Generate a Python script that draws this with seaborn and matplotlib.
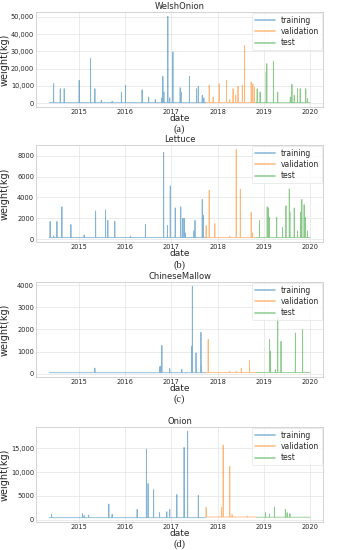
import pandas as pd
import numpy as np
import matplotlib
matplotlib.use('Agg')
import matplotlib.pyplot as plt
import matplotlib.dates as mdates
from matplotlib.ticker import FuncFormatter
import seaborn as sns

# periodos de cada particion
train_start, train_end = '2014-05-15', '2017-09-30'
val_start, val_end = '2017-10-01', '2018-10-31'
test_start, test_end = '2018-11-01', '2019-12-31'

# WelshOnion: (fecha, pico en kg) y nivel base
welsh_train = [('2014-06-19', 11200), ('2014-08-10', 8300), ('2014-09-10', 8300), ('2015-01-06', 13200),
               ('2015-04-06', 25800), ('2015-05-10', 8300), ('2015-06-29', 1500), ('2015-09-23', 1000),
               ('2015-12-05', 6400), ('2016-01-06', 10300), ('2016-05-16', 7700), ('2016-07-07', 3500),
               ('2016-08-28', 2000), ('2016-10-19', 3000), ('2016-10-27', 15500), ('2016-11-04', 6400),
               ('2016-12-05', 50400), ('2016-12-20', 3000), ('2017-01-14', 29700), ('2017-03-12', 8900),
               ('2017-03-19', 6400), ('2017-05-24', 15500), ('2017-07-20', 8300), ('2017-08-02', 9700),
               ('2017-09-02', 4500), ('2017-09-15', 3000)]
welsh_val = [('2017-10-27', 10300), ('2017-11-27', 3500), ('2018-01-14', 11200), ('2018-03-12', 13200),
             ('2018-04-07', 2000), ('2018-05-03', 8300), ('2018-05-24', 4500), ('2018-06-11', 9700),
             ('2018-07-15', 10300), ('2018-08-02', 33500), ('2018-09-23', 12200), ('2018-10-06', 11200),
             ('2018-10-19', 9000)]
welsh_test = [('2018-11-09', 8300), ('2018-12-02', 6400), ('2019-01-19', 18000), ('2019-01-24', 22900),
              ('2019-03-17', 24200), ('2019-04-20', 6400), ('2019-07-28', 3500), ('2019-08-10', 10800),
              ('2019-08-28', 4500), ('2019-09-23', 8300), ('2019-10-14', 8300), ('2019-11-27', 8300),
              ('2019-12-10', 2500)]
welsh_base = [200, 300, 200]

# Lettuce
lettuce_train = [('2014-05-22', 1700), ('2014-06-19', 300), ('2014-07-15', 1700), ('2014-08-23', 3100),
                 ('2014-11-02', 1400), ('2015-02-14', 400), ('2015-05-16', 2700), ('2015-08-02', 2800),
                 ('2015-08-20', 1800), ('2015-10-14', 1700), ('2016-02-14', 300), ('2016-06-11', 1400),
                 ('2016-11-02', 8300), ('2016-12-02', 1300), ('2016-12-24', 5100), ('2017-02-01', 3000),
                 ('2017-03-17', 3100), ('2017-04-01', 2000), ('2017-04-12', 2000), ('2017-04-20', 600),
                 ('2017-06-29', 800), ('2017-07-07', 1800), ('2017-09-02', 3800), ('2017-09-10', 2300)]
lettuce_val = [('2017-10-03', 1300), ('2017-10-27', 4700), ('2017-12-10', 1500), ('2018-04-07', 300),
               ('2018-05-28', 8600), ('2018-06-29', 4800), ('2018-09-23', 2600), ('2018-10-01', 600)]
lettuce_test = [('2018-11-27', 1800), ('2019-01-27', 3100), ('2019-02-04', 3000), ('2019-02-14', 2100),
                ('2019-04-12', 2100), ('2019-05-28', 1100), ('2019-06-24', 3200), ('2019-07-20', 4800),
                ('2019-07-25', 2600), ('2019-08-28', 3000), ('2019-09-23', 800), ('2019-10-19', 2600),
                ('2019-10-27', 3800), ('2019-11-14', 3300), ('2019-11-22', 2100), ('2019-12-10', 800)]
lettuce_base = [150, 150, 150]

# ChineseMallow
mallow_train = [('2015-05-10', 250), ('2016-10-01', 300), ('2016-10-06', 330), ('2016-10-19', 1280),
                ('2016-12-20', 230), ('2017-03-25', 200), ('2017-06-11', 1240), ('2017-06-16', 3950),
                ('2017-07-15', 940), ('2017-08-23', 1870), ('2017-08-28', 330)]
mallow_val = [('2017-10-19', 1550), ('2018-04-07', 100), ('2018-05-28', 110), ('2018-07-07', 230),
              ('2018-09-10', 590)]
mallow_test = [('2019-02-14', 1540), ('2019-02-20', 1010), ('2019-04-01', 180), ('2019-04-20', 2550),
               ('2019-05-16', 1460), ('2019-09-06', 1840), ('2019-11-02', 1990)]
mallow_base = [40, 50, 50]

# Onion
onion_train = [('2014-06-03', 1150), ('2015-02-01', 1300), ('2015-02-14', 900), ('2015-03-22', 1000),
               ('2015-08-28', 3300), ('2015-09-23', 1150), ('2016-04-07', 2200), ('2016-06-19', 14800),
               ('2016-07-02', 7600), ('2016-08-15', 6300), ('2016-10-01', 1500), ('2016-11-27', 1700),
               ('2016-12-20', 2200), ('2017-02-14', 5300), ('2017-04-12', 15150), ('2017-05-10', 18500),
               ('2017-08-02', 5100)]
onion_val = [('2017-10-03', 2600), ('2018-02-01', 2600), ('2018-02-14', 15650), ('2018-04-07', 11200),
             ('2018-04-25', 1100), ('2018-08-23', 800)]
onion_test = [('2019-01-14', 1500), ('2019-02-14', 1200), ('2019-03-25', 2700), ('2019-06-19', 2200),
              ('2019-07-03', 1500), ('2019-07-25', 1300)]
onion_base = [450, 600, 550]

productos = ['WelshOnion', 'Lettuce', 'ChineseMallow', 'Onion']
letras = ['(a)', '(b)', '(c)', '(d)']
series = [(welsh_train, welsh_val, welsh_test, welsh_base),
          (lettuce_train, lettuce_val, lettuce_test, lettuce_base),
          (mallow_train, mallow_val, mallow_test, mallow_base),
          (onion_train, onion_val, onion_test, onion_base)]
splits = ['training', 'validation', 'test']
periodos = [(train_start, train_end), (val_start, val_end), (test_start, test_end)]
colores = ['#1f77b4', '#ff7f0e', '#2ca02c']


def armar_serie(picos, base, inicio, fin):
    dia = pd.Timedelta(days=1)
    filas = [(pd.Timestamp(inicio), base), (pd.Timestamp(fin), base)]
    for f, v in picos:
        f = pd.Timestamp(f)
        filas += [(f - dia, base), (f, v), (f + dia, base)]
    df = pd.DataFrame(filas, columns=['date', 'weight']).drop_duplicates('date', keep='last')
    return df.sort_values('date')


def fmt_y(v, pos):
    return f'{v:,.0f}' if abs(v) >= 10000 else f'{v:.0f}'


sns.set_style('whitegrid')
plt.rcParams['font.family'] = ['DejaVu Sans']

fig = plt.figure(figsize=(3.38, 5.5), dpi=100)
posiciones = [[0.107, 0.8055, 0.849, 0.1727],
              [0.107, 0.560, 0.849, 0.1764],
              [0.107, 0.3145, 0.849, 0.1727],
              [0.107, 0.0509, 0.849, 0.1727]]

for i, (nombre, (tr, va, te, base)) in enumerate(zip(productos, series)):
    ax = fig.add_axes(posiciones[i])
    partes = []
    for s, picos, b, (ini, fin) in zip(splits, [tr, va, te], base, periodos):
        d = armar_serie(picos, b, ini, fin)
        d['split'] = s
        partes.append(d)
    df = pd.concat(partes, ignore_index=True)
    sns.lineplot(data=df, x='date', y='weight', hue='split', hue_order=splits,
                 palette=colores, estimator=None, lw=0.6, alpha=0.55, ax=ax)
    ax.set_title(nombre, fontsize=6, pad=2)
    ax.set_xlabel('date', fontsize=6.5)
    ax.set_ylabel('weight(kg)', fontsize=7)
    ax.xaxis.set_label_coords(0.5, -0.07)
    ax.yaxis.set_label_coords(-0.092, 0.5)
    ax.xaxis.set_major_locator(mdates.YearLocator())
    ax.xaxis.set_major_formatter(mdates.DateFormatter('%Y'))
    ax.yaxis.set_major_formatter(FuncFormatter(fmt_y))
    ax.tick_params(labelsize=4.8, pad=1.5, length=0)
    ax.grid(lw=0.5, color='#e3e3e3')
    for sp in ax.spines.values():
        sp.set_color('#cccccc')
        sp.set_linewidth(0.6)
    leg = ax.legend(loc='upper right', fontsize=5.5, frameon=True, borderaxespad=0.1,
                    handlelength=2.6, labelspacing=0.3, borderpad=0.4)
    leg.get_frame().set_edgecolor('#dddddd')
    leg.get_frame().set_linewidth(0.5)
    for h in leg.get_lines():
        h.set_linewidth(1.2)
        h.set_alpha(0.5)
    ax.text(0.5, -0.235, letras[i], transform=ax.transAxes, ha='center', va='center',
            fontsize=7.5, family='Liberation Serif')

fig.savefig('out.png', dpi=100)
